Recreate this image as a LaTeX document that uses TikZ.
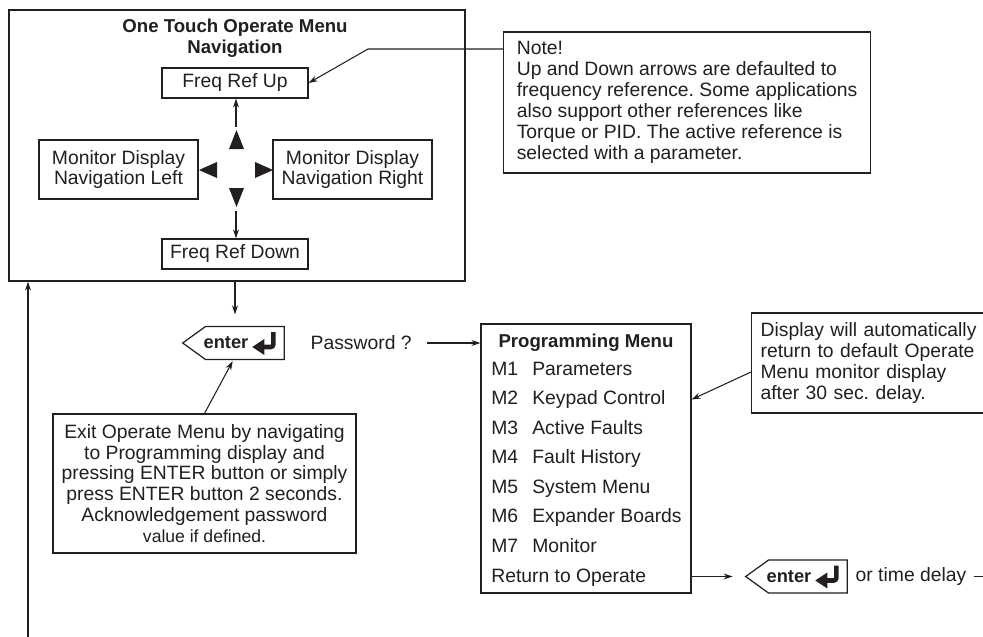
\documentclass[tikz,border=0pt]{standalone}
\usepackage{fontspec}
\setmainfont{Liberation Sans}
\usepackage{tikz}
\usetikzlibrary{arrows.meta,positioning,calc}
\definecolor{ink}{HTML}{231F20}
\frenchspacing

% bent return symbol of the enter key (drawn at the key's east anchor)
\tikzset{retsym/.pic={
  \draw[line width=2.6pt,rounded corners=1.5pt,draw=ink] (-11,-11) -- (-11,4) -- (-21,4);
  \fill[ink] (-32,4) -- (-20,-4) -- (-20,12) -- cycle;
}}

\begin{document}
\begin{tikzpicture}[x=0.02cm,y=-0.02cm,
  every node/.style={font=\fontsize{11}{11.9}\selectfont,text=ink},
  box/.style={rectangle,draw=ink,line width=0.7pt,inner sep=0pt,align=center},
  lbl/.style={inner sep=0pt},
  head/.style={inner sep=0pt,align=center,font=\fontsize{10.6}{11.9}\selectfont\bfseries},
  key/.style={inner sep=0pt,minimum width=2.02cm,minimum height=0.65cm,font=\fontsize{10.4}{12}\selectfont\bfseries},
  arr/.style={-{Stealth[length=1.8mm,width=1.2mm]},line width=0.6pt,draw=ink},
  ln/.style={line width=0.7pt,draw=ink}]
\useasboundingbox (0,0) rectangle (983,636);
\fill[white] (0,0) rectangle (983,636);
\clip (0,0) rectangle (983,636);

% one touch operate menu
\node[box,minimum width=9.12cm,minimum height=5.42cm] (opmenu) at (237,145.5) {};
\node[head] (optitle) at (235,38) {One Touch Operate Menu\\Navigation};
\node[box,minimum width=2.92cm,minimum height=0.6cm] (fup) at (235,83) {Freq Ref Up};
\node[box,minimum width=2.92cm,minimum height=0.6cm] (fdown) at (235,254) {Freq Ref Down};
\node[box,minimum width=3.18cm,minimum height=1.18cm] (mleft) at (118.5,169.5) {Monitor Display\\Navigation Left};
\node[box,minimum width=3.18cm,minimum height=1.18cm] (mright) at (352.5,169.5) {Monitor Display\\Navigation Right};
\fill[ink] (229,149) -- (244,149) -- (236.5,130) -- cycle;
\fill[ink] (229,188) -- (244,188) -- (236.5,207) -- cycle;
\fill[ink] (217,162) -- (217,178) -- (199,170) -- cycle;
\fill[ink] (255,162) -- (255,178) -- (273,170) -- cycle;
\coordinate (tu) at (236,127);
\coordinate (td) at (236,211);
\draw[arr] (tu) -- (tu |- fup.south);
\draw[arr] (td) -- (td |- fdown.north);

% notes
\node[box,anchor=west,minimum width=7.34cm,minimum height=2.82cm,align=left] (note1) at (503,102.5)
  {Note!\\Up and Down arrows are defaulted to\\frequency reference. Some applications\\also support other references like\\Torque or PID. The active reference is\\selected with a parameter.};
\coordinate (nbend) at (368,49);
\draw[arr] (note1.west |- nbend) -- (nbend) -- (fup.east);

\node[box,minimum width=6.06cm,minimum height=2.78cm] (exitnote) at (204.5,483.5)
  {Exit Operate Menu by navigating\\to Programming display and\\pressing ENTER button or simply\\press ENTER button 2 seconds.\\Acknowledgement password\\{\fontsize{10}{11.9}\selectfont value if defined.}};

% enter keys
\node[key] (k1) at (233.5,343) {enter\rule{0.3cm}{0pt}};
\node[key] (k2) at (796.5,576.5) {enter\rule{0.3cm}{0pt}};
\foreach \k in {k1,k2} {
  \draw[ln] (\k.north east) -- (\k.south east) -- ([xshift=0.46cm]\k.south west) -- (\k.west) -- ([xshift=0.46cm]\k.north west) -- cycle;
  \pic at (\k.east) {retsym};
}
\node[lbl,right=0.52cm of k1] (pw) {Password ?};
\node[lbl,right=0.16cm of k2] (otd) {or time delay};

% programming menu
\node[box,minimum width=4.2cm,minimum height=5.38cm] (prog) at (586,458.5) {};
\node[head,anchor=base] (pmtitle) at (586,347) {Programming Menu};
\foreach \k/\t [count=\i] in {1/Parameters,2/Keypad Control,3/Active Faults,4/Fault History,5/System Menu,6/Expander Boards,7/Monitor}
  \node[lbl,anchor=base west] (m\k) at (491,345.5+29.5*\i) {\makebox[0.82cm][l]{M\k}\t};
\node[lbl,anchor=base west] (ret) at (491,582) {Return to Operate};

\node[box,anchor=west,minimum width=4.9cm,minimum height=2cm,text width=4.54cm,align=left] (note2) at (751,363)
  {Display will automatically\\return to default Operate\\Menu monitor display\\after 30 sec. delay.};

% connectors
\draw[arr,shorten >=0.24cm] (fdown.south |- opmenu.south) -- (fdown.south |- k1.north);
\draw[arr,shorten >=1pt] (exitnote.north) -- (k1.south);
\draw[arr] ([xshift=0.3cm]pw.east) -- (pw.east -| prog.west);
\draw[arr] ([yshift=-0.18cm]note2.west) -- (m2.east -| prog.east);
\draw[arr,shorten >=0.26cm] (k2.west -| prog.east) -- (k2.west);
\coordinate (back) at (28,660);
\draw[arr] ([xshift=0.14cm]otd.east) -- ++(40,0) |- (back) -- (back |- opmenu.south);
\end{tikzpicture}
\end{document}
